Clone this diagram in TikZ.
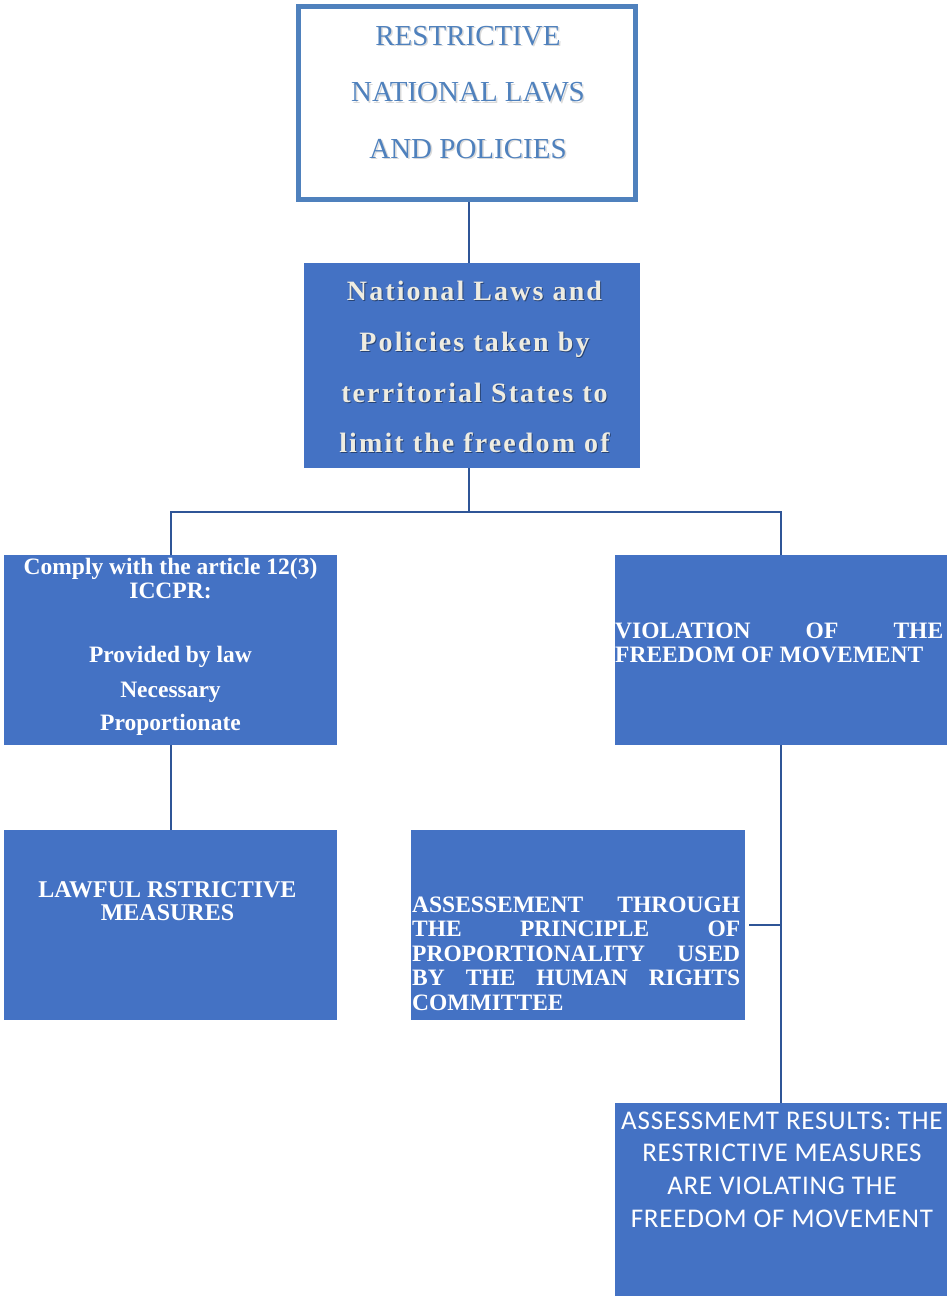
\documentclass[tikz,border=0pt]{standalone}
\usepackage{fontspec}
\setmainfont{Liberation Serif}
\newfontfamily\carl[LetterSpace=3]{Carlito}
\newfontfamily\lsserif[LetterSpace=7.5]{Liberation Serif}
\definecolor{boxblue}{HTML}{4472C4}
\definecolor{edgeblue}{HTML}{4F81BD}
\definecolor{linkblue}{HTML}{2F5597}
\definecolor{paletext}{HTML}{EEECE1}
\newcommand\fsz[2]{\fontsize{#1}{#2}\selectfont}
\newcommand\para[2]{\vtop{\hsize=#1\parindent=0pt\lineskiplimit=-100pt\relax #2\par}}
\begin{document}
\begin{tikzpicture}[x=1pt,y=-1pt,
  box/.style={fill=boxblue,draw=none,inner sep=0pt,anchor=north west},
  conn/.style={draw=linkblue,line width=2pt},
  txt/.style={inner sep=0pt,text=white}]
\useasboundingbox (0,0) rectangle (947,1296);
% boxes
\node[draw=edgeblue,line width=4.5pt,fill=white,inner sep=0pt,minimum width=337pt,minimum height=193pt,anchor=north west] (top) at (296,4) {};
\node[box,minimum width=336pt,minimum height=205pt] (nat) at (304,263) {};
\node[box,minimum width=333pt,minimum height=190pt] (comply) at (4,555) {};
\node[box,minimum width=332pt,minimum height=190pt] (viol) at (615,555) {};
\node[box,minimum width=333pt,minimum height=190pt] (lawful) at (4,830) {};
\node[box,minimum width=334pt,minimum height=190pt] (assess) at (411,830) {};
\node[box,minimum width=332pt,minimum height=200pt] (result) at (615,1103) {};
% texts
\node[txt,text=black,opacity=0.15,anchor=base] (topS) at (469.5,46.5) {\fsz{29}{56.5}\para{330pt}{\centering RESTRICTIVE\\NATIONAL LAWS\\AND POLICIES}};
\node[txt,text=edgeblue,anchor=base] (topT) at (468,45) {\fsz{29}{56.5}\para{330pt}{\centering RESTRICTIVE\\NATIONAL LAWS\\AND POLICIES}};
\node[txt,text=black,opacity=0.4,anchor=base] (natS) at (475.5,301.7) {\fsz{28}{50.7}\lsserif\bfseries\para{336pt}{\centering National Laws and\\Policies taken by\\territorial States to\\limit the freedom of}};
\node[txt,text=paletext,anchor=base] (natT) at (474.5,300.7) {\fsz{28}{50.7}\lsserif\bfseries\para{336pt}{\centering National Laws and\\Policies taken by\\territorial States to\\limit the freedom of}};
\node[txt,anchor=base] (complyT) at (170.5,574) {\fsz{23.5}{24}\bfseries\para{333pt}{\centering Comply with the article 12(3)\\ICCPR:\\[40pt]Provided by law\\[11pt]Necessary\\[9pt]Proportionate}};
\node[txt,anchor=base west] (violT) at (615,638) {\fsz{23.5}{24}\bfseries\para{328pt}{\hbox to 328pt{VIOLATION\hfill OF\hfill THE}\hbox{FREEDOM OF MOVEMENT}}};
\node[txt,anchor=base] (lawfulT) at (167.5,897) {\fsz{24}{23.5}\bfseries\para{333pt}{\centering LAWFUL RSTRICTIVE\\MEASURES}};
\node[txt,anchor=base west] (assessT) at (412,912) {\fsz{23.5}{24.6}\bfseries\para{328pt}{\hbox to 328pt{ASSESSEMENT\hfill THROUGH}\hbox to 328pt{THE\hfill PRINCIPLE\hfill OF}\hbox to 328pt{PROPORTIONALITY\hfill USED}\hbox to 328pt{BY\hfill THE\hfill HUMAN\hfill RIGHTS}\hbox{COMMITTEE}}};
\node[txt,anchor=base] (resultT) at (782,1129) {\fsz{27}{32.7}\carl\para{400pt}{\centering ASSESSMEMT RESULTS: THE\\RESTRICTIVE MEASURES\\ARE VIOLATING THE\\FREEDOM OF MOVEMENT}};
% connectors
\coordinate (bus) at (469,512);
\draw[conn] (top.south -| bus) -- (nat.north -| bus);
\draw[conn] (nat.south -| bus) -- (bus);
\draw[conn] (comply.north) |- (bus) -| (viol.north);
\draw[conn] (comply.south) -- (lawful.north);
\draw[conn] (viol.south) -- (result.north);
\draw[conn] ([xshift=4pt]assess.east) -- (assess.east -| viol.south);
\end{tikzpicture}
\end{document}
